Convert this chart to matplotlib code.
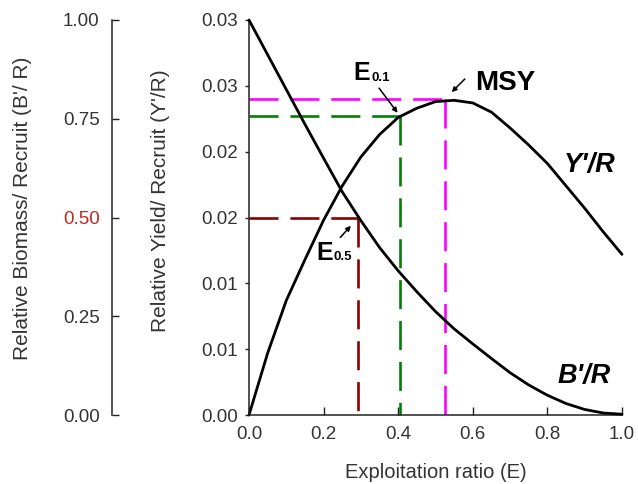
import matplotlib
matplotlib.use("Agg")
import matplotlib.pyplot as plt

# ---- data ----
E = [0.00, 0.05, 0.10, 0.15, 0.20, 0.25, 0.30, 0.35, 0.40, 0.45, 0.50,
     0.55, 0.60, 0.65, 0.70, 0.75, 0.80, 0.85, 0.90, 0.95, 1.00]
yield_per_recruit = [0.0000, 0.0047, 0.0087, 0.0118, 0.0148, 0.0174, 0.0196,
                     0.0213, 0.0226, 0.0233, 0.0238, 0.0239, 0.0237, 0.0230,
                     0.0218, 0.0205, 0.0191, 0.0174, 0.0157, 0.0139, 0.0122]
biomass_per_recruit = [1.000, 0.912, 0.824, 0.736, 0.650, 0.565, 0.492, 0.424,
                       0.365, 0.312, 0.262, 0.218, 0.180, 0.143, 0.107, 0.076,
                       0.050, 0.029, 0.014, 0.005, 0.002]

E05, B05 = 0.293, 0.50
E01, Y01 = 0.405, 0.0227
EMSY, YMSY = 0.525, 0.0240

x_ticks = [0.0, 0.2, 0.4, 0.6, 0.8, 1.0]
x_tick_labels = ['0.0', '0.2', '0.4', '0.6', '0.8', '1.0']
yield_ticks = [0.0, 0.005, 0.010, 0.015, 0.020, 0.025, 0.030]
yield_tick_labels = ['0.00', '0.01', '0.01', '0.02', '0.02', '0.03', '0.03']
bio_ticks = [0.0, 0.25, 0.50, 0.75, 1.00]
bio_tick_labels = ['0.00', '0.25', '0.50', '0.75', '1.00']

# ---- styling ----
plt.rcParams['font.family'] = ['Liberation Sans', 'DejaVu Sans']
TXT = '#333333'
RED_TXT = '#c0281e'
DARKRED = '#8b0000'
GREEN = '#008000'
MAGENTA = '#ff00ff'
DASH = (11, 4.5)

W, H = 638, 484
fig = plt.figure(figsize=(W / 100, H / 100), dpi=100)
x0, x1, yb, yt = 249, 622, 415, 20
ax = fig.add_axes([x0 / W, 1 - yb / H, (x1 - x0) / W, (yb - yt) / H])
ax2 = ax.twinx()

# main (yield) axes
ax.set_xlim(0, 1)
ax.set_ylim(0, 0.03)
for s in ['top', 'right']:
    ax.spines[s].set_visible(False)
for s in ['left', 'bottom']:
    ax.spines[s].set_linewidth(1.1)
    ax.spines[s].set_color('#222222')
ax.set_xticks(x_ticks)
ax.set_xticklabels(x_tick_labels)
ax.set_yticks(yield_ticks)
ax.set_yticklabels(yield_tick_labels)
ax.tick_params(axis='x', direction='in', length=6, width=1, pad=8,
               labelsize=13.5, colors='#222222')
ax.tick_params(axis='y', direction='out', length=3, width=1, pad=5,
               labelsize=13.5, colors='#222222')
for lab in ax.get_xticklabels() + ax.get_yticklabels():
    lab.set_color(TXT)

ax.set_xlabel('Exploitation ratio (E)', fontsize=14.5, color=TXT, labelpad=14)
ax.set_ylabel("Relative Yield/ Recruit (Y'/R)", fontsize=15, color=TXT, va='center')
ax.yaxis.set_label_coords((160 - x0) / (x1 - x0), (yb - 200.5) / (yb - yt))

# biomass axes (outer left axis)
ax2.set_ylim(0, 1)
for s in ['top', 'right', 'bottom']:
    ax2.spines[s].set_visible(False)
ax2.spines['left'].set_visible(True)
ax2.spines['left'].set_position(('axes', (112 - x0) / (x1 - x0)))
ax2.spines['left'].set_linewidth(1.1)
ax2.spines['left'].set_color('#222222')
ax2.yaxis.set_ticks_position('left')
ax2.yaxis.set_label_position('left')
ax2.set_yticks(bio_ticks)
ax2.set_yticklabels(bio_tick_labels)
ax2.tick_params(axis='y', direction='in', length=5, width=1, pad=9,
                labelsize=13.5, colors='#222222')
for i, lab in enumerate(ax2.get_yticklabels()):
    lab.set_color(RED_TXT if bio_ticks[i] == 0.5 else TXT)
for i, tl in enumerate(ax2.yaxis.get_major_ticks()):
    if bio_ticks[i] == 0.5:
        tl.tick1line.set_color(RED_TXT)
ax2.set_ylabel("Relative Biomass/ Recruit (B'/ R)", fontsize=15, color=TXT, va='center')
ax2.yaxis.set_label_coords((22 - x0) / (x1 - x0), (yb - 208.5) / (yb - yt))

# reference dashed lines
ax.plot([0, EMSY], [YMSY, YMSY], color=MAGENTA, lw=1.9, dashes=DASH, clip_on=False)
ax.plot([EMSY, EMSY], [YMSY, 0], color=MAGENTA, lw=1.9, dashes=DASH, clip_on=False)
ax.plot([0, E01], [Y01, Y01], color=GREEN, lw=1.9, dashes=DASH, clip_on=False)
ax.plot([E01, E01], [Y01, 0], color=GREEN, lw=1.9, dashes=DASH, clip_on=False)
ax2.plot([0, E05], [B05, B05], color=DARKRED, lw=1.9, dashes=DASH, clip_on=False)
ax2.plot([E05, E05], [B05, 0], color=DARKRED, lw=1.9, dashes=DASH, clip_on=False)

# curves
ax.plot(E, yield_per_recruit, color='black', lw=2.0, clip_on=False,
        solid_joinstyle='round', solid_capstyle='round')
ax2.plot(E, biomass_per_recruit, color='black', lw=2.0, clip_on=False,
         solid_joinstyle='round', solid_capstyle='round')

# curve labels
ax.text((590 - x0) / (x1 - x0), (yb - 172) / (yb - yt), "Y'/R", transform=ax.transAxes,
        fontsize=19.5, fontweight='bold', fontstyle='italic', ha='center', va='baseline',
        color='black')
ax.text((584 - x0) / (x1 - x0), (yb - 383) / (yb - yt), "B'/R", transform=ax.transAxes,
        fontsize=19.5, fontweight='bold', fontstyle='italic', ha='center', va='baseline',
        color='black')

PT = 0.72  # points per pixel
arrow = dict(arrowstyle='-|>', color='black', lw=1.1, mutation_scale=7,
             shrinkA=0, shrinkB=0)

# E0.1
ax.annotate('', xy=(E01, Y01), xytext=(-21 * PT, 28 * PT), textcoords='offset points',
            arrowprops=dict(arrow, shrinkB=3))
ax.annotate('E', xy=(E01, Y01), xytext=(-47 * PT, 36 * PT), textcoords='offset points',
            fontsize=18, fontweight='bold', ha='left', va='baseline')
ax.annotate('0.1', xy=(E01, Y01), xytext=(-29 * PT, 35 * PT), textcoords='offset points',
            fontsize=9.5, fontweight='bold', ha='left', va='baseline')

# MSY
ax.annotate('', xy=(EMSY, YMSY), xytext=(20 * PT, 20 * PT), textcoords='offset points',
            arrowprops=dict(arrow, shrinkB=7))
ax.annotate('MSY', xy=(EMSY, YMSY), xytext=(60 * PT, 9 * PT), textcoords='offset points',
            fontsize=20, fontweight='bold', ha='center', va='baseline')

# E0.5
ax2.annotate('', xy=(E05, B05), xytext=(-18 * PT, -20 * PT), textcoords='offset points',
             arrowprops=dict(arrow, shrinkB=8))
ax2.annotate('E', xy=(E05, B05), xytext=(-42 * PT, -43 * PT), textcoords='offset points',
             fontsize=18, fontweight='bold', ha='left', va='baseline')
ax2.annotate('0.5', xy=(E05, B05), xytext=(-25 * PT, -43 * PT), textcoords='offset points',
             fontsize=9.5, fontweight='bold', ha='left', va='baseline')

fig.savefig('out.png', dpi=100)
